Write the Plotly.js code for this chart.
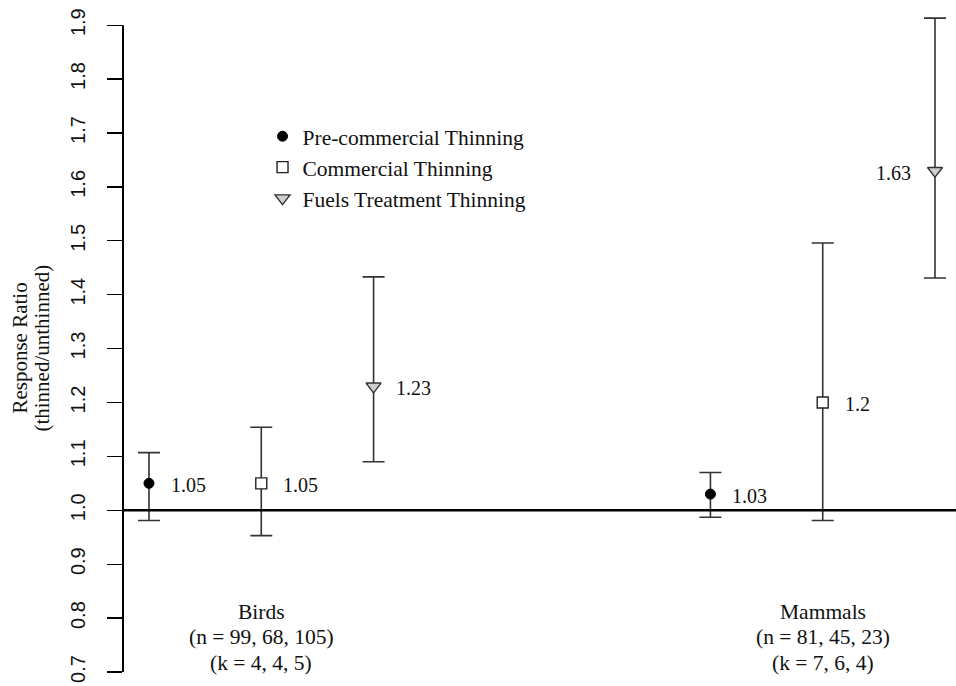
<!DOCTYPE html>
<html><head><meta charset="utf-8">
<script src="https://cdn.plot.ly/plotly-3.0.1.min.js"></script>
<style>html,body{margin:0;padding:0;background:#fff}#chart{width:956px;height:686px}</style>
</head><body><div id="chart"></div>
<script>
// Data
const seriesNames = ["Pre-commercial Thinning", "Commercial Thinning", "Fuels Treatment Thinning"];
const groups = ["Birds", "Mammals"];
const groupX = [[1, 2, 3], [6, 7, 8]]; // slot positions for each group
const nText = ["(n = 99, 68, 105)", "(n = 81, 45, 23)"];
const kText = ["(k = 4, 4, 5)", "(k = 7, 6, 4)"];
const yTicks = [0.7, 0.8, 0.9, 1.0, 1.1, 1.2, 1.3, 1.4, 1.5, 1.6, 1.7, 1.8, 1.9];
const yTickText = ["0.7", "0.8", "0.9", "1.0", "1.1", "1.2", "1.3", "1.4", "1.5", "1.6", "1.7", "1.8", "1.9"];
// per series: [Birds, Mammals]
const preMean = [1.05, 1.03];
const preLow = [0.981, 0.987];
const preHigh = [1.107, 1.070];
const comMean = [1.05, 1.20];
const comLow = [0.953, 0.981];
const comHigh = [1.154, 1.496];
const fuelMean = [1.23, 1.63];
const fuelLow = [1.090, 1.431];
const fuelHigh = [1.433, 1.913];
const meanLabels = [["1.05", "1.03"], ["1.05", "1.2"], ["1.23", "1.63"]];

const means = [preMean, comMean, fuelMean];
const lows = [preLow, comLow, fuelLow];
const highs = [preHigh, comHigh, fuelHigh];
const markers = [
  {symbol: "circle", size: 10, color: "#000", line: {color: "#000", width: 1}},
  {symbol: "square", size: 11, color: "#fff", line: {color: "#222", width: 1.4}},
  {symbol: "triangle-down", size: 13, color: "#cfcfcf", line: {color: "#333", width: 1.4}}
];
const serif = "Liberation Serif, Times New Roman, serif";

const traces = [];
const annotations = [];
for (let s = 0; s < 3; s++) {
  const xs = groups.map((g, gi) => groupX[gi][s]);
  traces.push({
    type: "scatter", mode: "markers", name: seriesNames[s],
    x: xs, y: means[s], cliponaxis: false,
    marker: markers[s],
    error_y: {
      type: "data", symmetric: false,
      array: means[s].map((m, i) => highs[s][i] - m),
      arrayminus: means[s].map((m, i) => m - lows[s][i]),
      color: "#333", thickness: 1.6, width: 11
    },
    hoverinfo: "skip"
  });
  xs.forEach((x, i) => {
    const left = (s === 2 && i === 1);
    annotations.push({
      x: x, y: means[s][i], xref: "x", yref: "y",
      text: meanLabels[s][i], showarrow: false,
      xanchor: left ? "right" : "left", yanchor: "middle",
      xshift: left ? -22 : 20, yshift: -2,
      font: {family: serif, size: 20, color: "#111"}
    });
  });
}
groups.forEach((g, gi) => {
  const cx = groupX[gi][1];
  [[g, 0.0927], [nText[gi], 0.0541], [kText[gi], 0.0139]].forEach(([t, yy]) => {
    annotations.push({
      x: cx, y: 0.7 + yy * 1.2, xref: "x", yref: "y", text: t, showarrow: false,
      xanchor: "center", yanchor: "middle",
      font: {family: serif, size: 21.5, color: "#111"}
    });
  });
});
[["Response Ratio", 20], ["(thinned/unthinned)", 42]].forEach(([t, px]) => {
  annotations.push({
    x: (px - 123) / 833, y: 1.3, xref: "paper", yref: "y",
    text: t, showarrow: false, textangle: -90,
    xanchor: "center", yanchor: "middle",
    font: {family: serif, size: 21, color: "#111"}
  });
});

const layout = {
  width: 956, height: 686,
  margin: {l: 123, r: 0, t: 9, b: 14},
  paper_bgcolor: "#fff", plot_bgcolor: "#fff",
  showlegend: true,
  legend: {
    x: 0.1675, y: 0.839, xanchor: "left", yanchor: "top",
    bgcolor: "rgba(0,0,0,0)",
    font: {family: serif, size: 21.5, color: "#111"}
  },
  xaxis: {range: [0.7685, 8.187], visible: false, fixedrange: true},
  yaxis: {
    range: [0.7, 1.93], tickvals: yTicks, ticktext: yTickText,
    showgrid: false, zeroline: false, showline: false,
    ticks: "outside", ticklen: 15, tickwidth: 1.3, tickcolor: "#000",
    tickangle: -90, ticklabelstandoff: 14,
    tickfont: {family: "Liberation Sans, Arial, sans-serif", size: 20, color: "#111"}
  },
  shapes: [
    {type: "line", xref: "paper", x0: 0, x1: 1, yref: "y", y0: 1.0, y1: 1.0,
     line: {color: "#000", width: 2.6}},
    {type: "line", xref: "paper", x0: 0, x1: 0, yref: "y", y0: yTicks[0], y1: yTicks[yTicks.length - 1],
     line: {color: "#000", width: 2}}
  ],
  annotations: annotations
};
Plotly.newPlot("chart", traces, layout, {displayModeBar: false, staticPlot: true});
</script></body></html>
